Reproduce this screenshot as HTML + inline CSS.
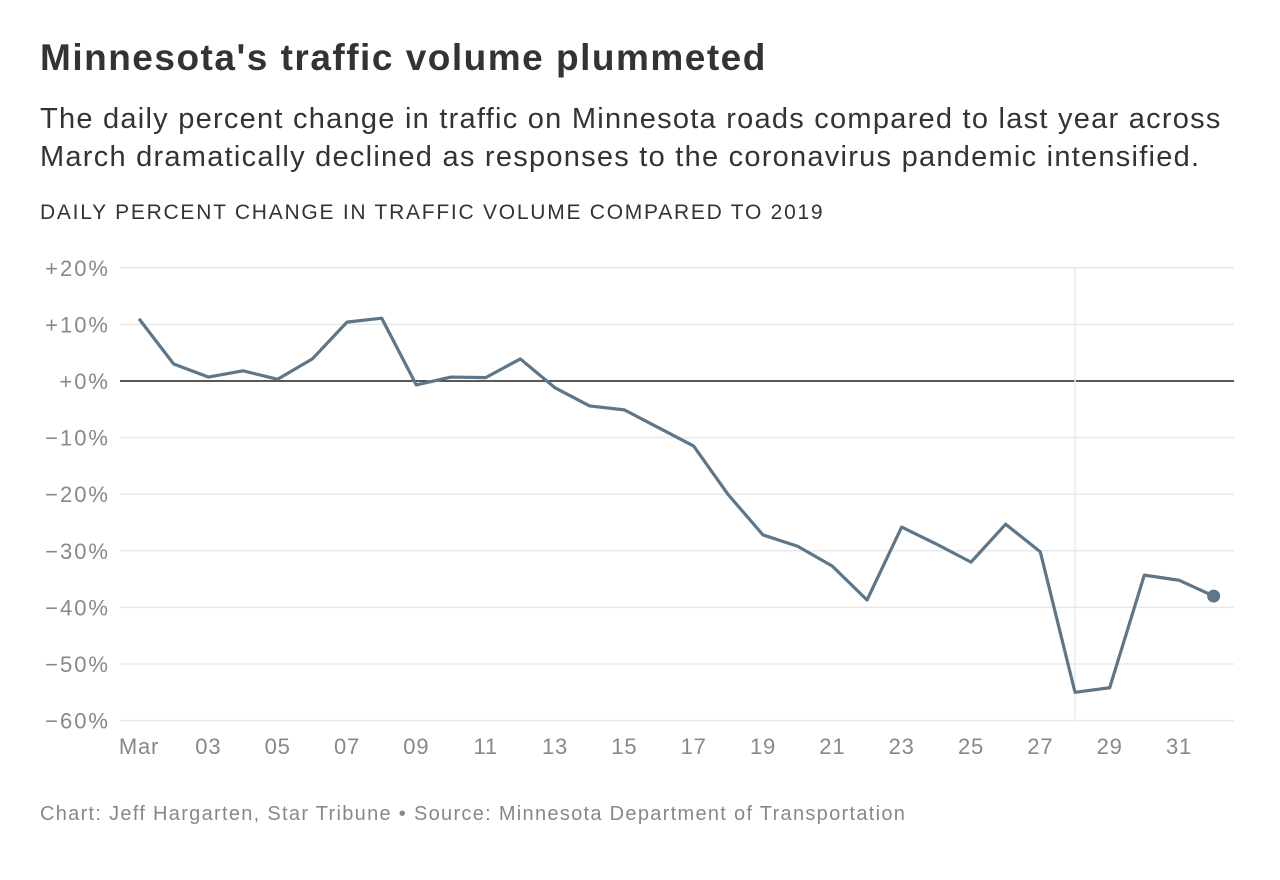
<!DOCTYPE html>
<html><head><meta charset="utf-8"><style>
body{margin:0;background:#fff;font-family:"Liberation Sans",sans-serif;}
#wrap{position:relative;width:1280px;height:880px;}
h1{position:absolute;left:40px;top:37px;margin:0;font-size:37px;letter-spacing:1.5px;font-weight:bold;color:#333;white-space:nowrap;}
.sub{position:absolute;left:40px;top:100px;margin:0;font-size:29px;letter-spacing:1.25px;line-height:38px;color:#333;white-space:nowrap;}
.yt{position:absolute;left:40px;top:201px;font-size:21px;color:#333;letter-spacing:1.75px;white-space:nowrap;}
.src{position:absolute;left:40px;top:803px;font-size:20px;letter-spacing:1.3px;color:#888;white-space:nowrap;}
svg{position:absolute;left:0;top:0;}
</style></head><body>
<div id="wrap">
<h1>Minnesota's traffic volume plummeted</h1>
<p class="sub">The daily percent change in traffic on Minnesota roads compared to last year across<br>March dramatically declined as responses to the coronavirus pandemic intensified.</p>
<div class="yt">DAILY PERCENT CHANGE IN TRAFFIC VOLUME COMPARED TO 2019</div>
<svg id="chart" width="1280" height="880"></svg>
<div class="src">Chart: Jeff Hargarten, Star Tribune • Source: Minnesota Department of Transportation</div>
</div>
<script>
const days=[1,2,3,4,5,6,7,8,9,10,11,12,13,14,15,16,17,18,19,20,21,22,23,24,25,26,27,28,29,30,31,32];
const values=[11,3,0.7,1.8,0.3,3.9,10.4,11.1,-0.7,0.7,0.6,3.9,-1.2,-4.4,-5.1,-8.3,-11.5,-20.1,-27.2,-29.2,-32.7,-38.7,-25.8,-28.8,-32,-25.3,-30.2,-55,-54.2,-34.3,-35.2,-38];
const yTicks=[20,10,0,-10,-20,-30,-40,-50,-60];
const xTickDays=[1,3,5,7,9,11,13,15,17,19,21,23,25,27,29,31];
const xTickLabels=["Mar","03","05","07","09","11","13","15","17","19","21","23","25","27","29","31"];
const x=d=>139+(d-1)*(1040/30);
const y=v=>381-v*5.66;
const svg=document.getElementById('chart');
const NS='http://www.w3.org/2000/svg';
function mk(t,a){const e=document.createElementNS(NS,t);for(const k in a)e.setAttribute(k,a[k]);svg.appendChild(e);return e;}
yTicks.forEach(v=>{
  const l=mk('line',{x1:120,x2:1234,y1:y(v),y2:y(v),stroke:v===0?'#222':'#e8e8e8','stroke-width':1.5});
  
  
  const t=mk('text',{x:110,y:y(v)+8,'text-anchor':'end','font-size':22,'letter-spacing':2,fill:'#888','font-family':'Liberation Sans, sans-serif'});
  t.textContent=(v<0?'\u2212':'+')+Math.abs(v)+'%';
  
  
});
const vl=mk('line',{x1:x(28),x2:x(28),y1:268,y2:721,stroke:'#ececec','stroke-width':1.5});


xTickDays.forEach((d,i)=>{
  const t=mk('text',{x:x(d),y:754,'text-anchor':'middle','font-size':22,'letter-spacing':0.8,fill:'#888','font-family':'Liberation Sans, sans-serif'});
  t.textContent=xTickLabels[i];
  
  
});
const p=mk('polyline',{points:days.map((d,i)=>x(d)+','+y(values[i])).join(' '),fill:'none',stroke:'#5e7687','stroke-width':3.2,'stroke-linejoin':'round'});


const n=days.length-1;
const c=mk('circle',{cx:x(days[n]),cy:y(values[n]),r:6.5,fill:'#5e7687'});


</script>
</body></html>
